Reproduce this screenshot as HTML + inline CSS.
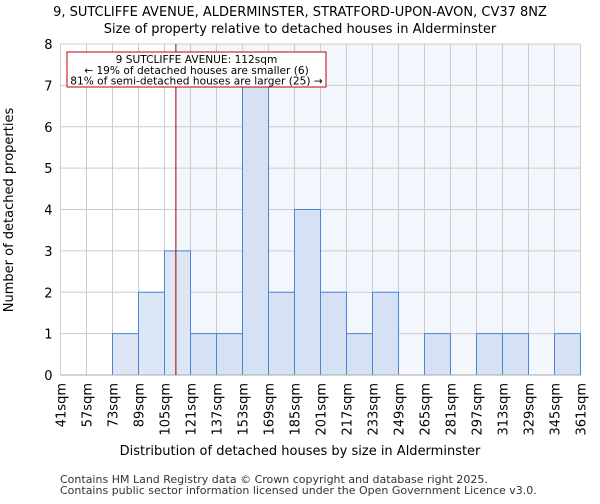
<!DOCTYPE html>
<html><head><meta charset="utf-8"><style>
body{margin:0;background:#fff;font-family:"DejaVu Sans","Liberation Sans",sans-serif;}
</style></head><body>
<svg id="c" width="600" height="500" xmlns="http://www.w3.org/2000/svg" font-family="DejaVu Sans, Liberation Sans, sans-serif">
<text x="300" y="16" text-anchor="middle" font-size="13">9, SUTCLIFFE AVENUE, ALDERMINSTER, STRATFORD-UPON-AVON, CV37 8NZ</text>
<text x="300" y="33" text-anchor="middle" font-size="13">Size of property relative to detached houses in Alderminster</text>
<g id="plot"></g>
<text x="300" y="455" text-anchor="middle" font-size="13">Distribution of detached houses by size in Alderminster</text>
<text transform="translate(13,210) rotate(-90)" text-anchor="middle" font-size="13">Number of detached properties</text>
<text x="60" y="483" font-size="11" fill="#333">Contains HM Land Registry data © Crown copyright and database right 2025.</text>
<text x="60" y="494" font-size="11" fill="#333">Contains public sector information licensed under the Open Government Licence v3.0.</text>
</svg>
<script>
const binEdges=[41,57,73,89,105,121,137,153,169,185,201,217,233,249,265,281,297,313,329,345,361];
const counts=[0,0,1,2,3,1,1,7,2,4,2,1,2,0,1,0,1,1,0,1];
const yTicks=[0,1,2,3,4,5,6,7,8];
const propertySize=112;
const NS="http://www.w3.org/2000/svg";
const L=60.5,R=580.5,T=44,B=375;
const xs=v=>L+(v-binEdges[0])/(binEdges[binEdges.length-1]-binEdges[0])*(R-L);
const ys=v=>B-v/8*(B-T);
const g=document.getElementById('plot');
function mk(t,a){const e=document.createElementNS(NS,t);for(const k in a)e.setAttribute(k,a[k]);g.appendChild(e);return e;}
const px=xs(propertySize);
let e=mk('rect',{x:px,y:T,width:R-px,height:B-T,fill:'#f3f6fd'});


yTicks.forEach(t=>{
 let l=mk('line',{x1:L,x2:R,y1:ys(t),y2:ys(t),stroke:'#ccc'});
 
 
 let tx=mk('text',{x:L-8,y:ys(t)+5,'text-anchor':'end','font-size':13});
 tx.textContent=t;
 
 
});
binEdges.forEach(b=>{
 let l=mk('line',{x1:xs(b),x2:xs(b),y1:T,y2:B,stroke:'#ccc'});
 
 
 let tx=mk('text',{transform:`translate(${xs(b)+5},${B+8}) rotate(-90)`,'text-anchor':'end','font-size':13});
 tx.textContent=b+'sqm';
 
 
});
counts.forEach((c,i)=>{
 if(!c)return;
 let r=mk('rect',{x:xs(binEdges[i]),y:ys(c),width:xs(binEdges[i+1])-xs(binEdges[i]),height:B-ys(c),fill:binEdges[i]<propertySize?'#dce6f4':'#d6e2f3',stroke:'#4a86d8','stroke-width':1});
 
 
});
e=mk('line',{x1:L,x2:R,y1:B,y2:B,stroke:'#aaa'});


e=mk('line',{x1:px,x2:px,y1:T,y2:B,stroke:'#a00000','stroke-width':1});


e=mk('rect',{x:67,y:52,width:259,height:35,fill:'#fff',stroke:'#c00000'});


[['9 SUTCLIFFE AVENUE: 112sqm',63],['← 19% of detached houses are smaller (6)',74],['81% of semi-detached houses are larger (25) →',84.5]].forEach(([s,y])=>{
 let t=mk('text',{x:196.5,y:y,'text-anchor':'middle','font-size':10.6});
 t.textContent=s;
 
 
});
</script>
</body></html>
